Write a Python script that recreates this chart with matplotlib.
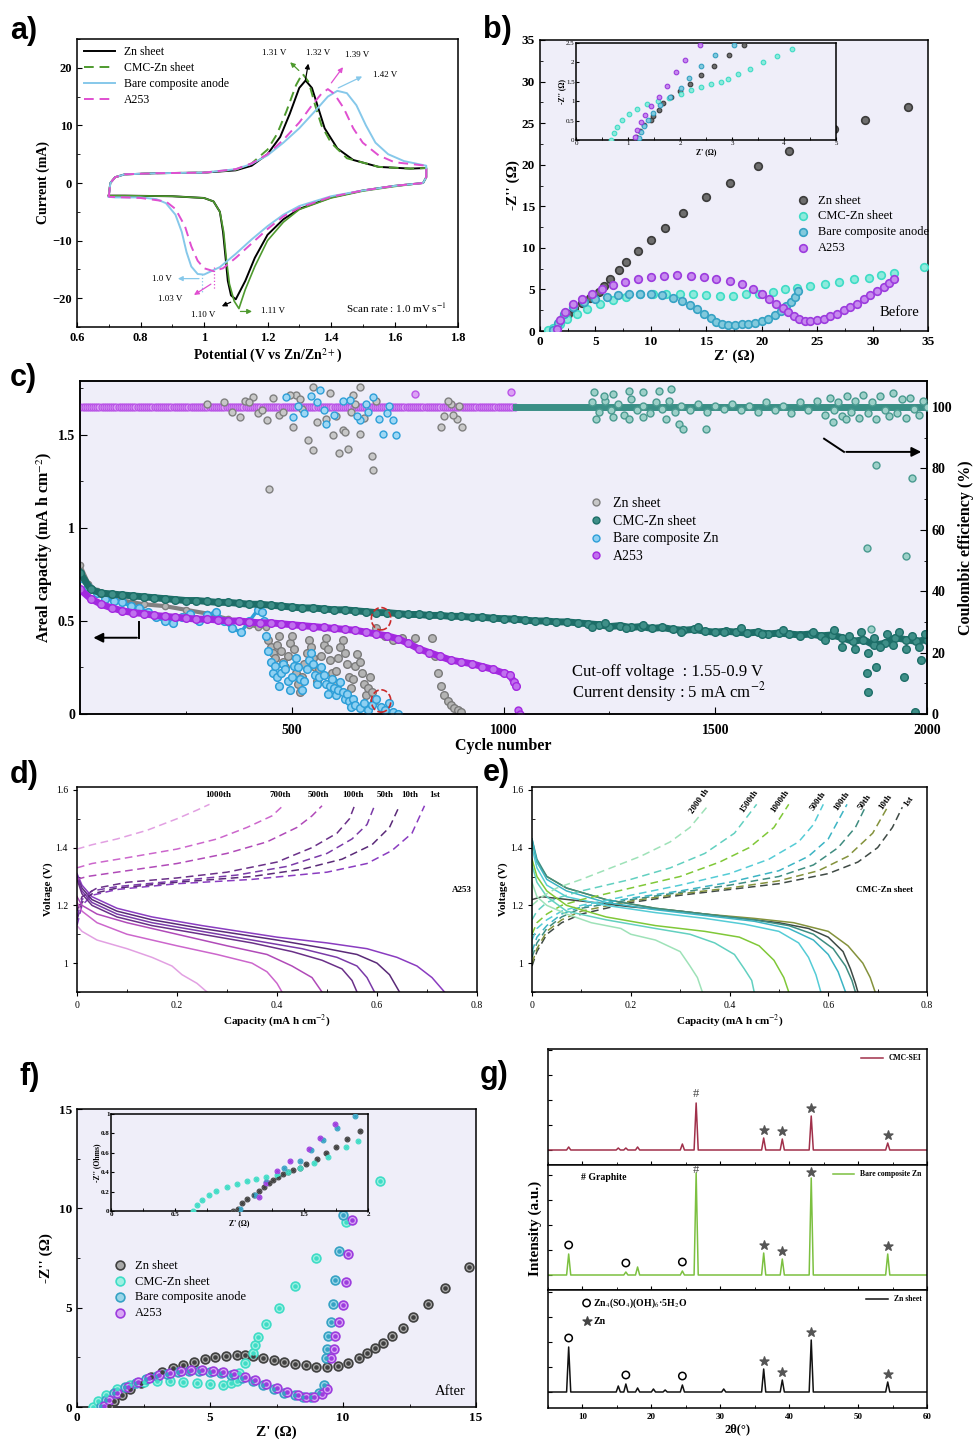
import numpy as np
import matplotlib
matplotlib.use('Agg')
import matplotlib.pyplot as plt
from matplotlib.patches import Ellipse
from matplotlib.lines import Line2D
from matplotlib.ticker import FuncFormatter, MultipleLocator, NullFormatter

plt.rcParams['font.family'] = ['Liberation Serif', 'DejaVu Serif']
plt.rcParams['mathtext.fontset'] = 'stix'
plt.rcParams['axes.linewidth'] = 1.1
plt.rcParams['xtick.direction'] = 'in'
plt.rcParams['ytick.direction'] = 'in'

# ---------------- (a) cyclic voltammetry ----------------
cv_zn_v = [0.70, 0.705, 0.72, 0.75, 0.85, 1.0, 1.1, 1.15, 1.2, 1.24, 1.27, 1.30, 1.32, 1.34, 1.36, 1.38, 1.42, 1.47, 1.55, 1.65, 1.70,
           1.70, 1.69, 1.6, 1.5, 1.4, 1.3, 1.25, 1.2, 1.16, 1.13, 1.10, 1.085, 1.075, 1.068, 1.06, 1.05, 1.03, 1.0, 0.9, 0.75, 0.70]
cv_zn_i = [-2.2, 0.0, 1.0, 1.5, 1.7, 1.8, 2.2, 3.0, 5.0, 8.0, 12.0, 16.5, 17.8, 16.5, 13.0, 9.5, 6.0, 4.0, 2.8, 2.5, 2.6,
           1.0, 0.0, -0.5, -1.3, -2.5, -4.5, -6.3, -9.0, -13.0, -17.0, -20.2, -19.5, -17.0, -13.0, -8.5, -5.0, -3.2, -2.6, -2.3, -2.2, -2.2]
cv_cmc_up_v = [0.70, 0.705, 0.72, 0.75, 0.85, 1.0, 1.1, 1.15, 1.2, 1.23, 1.26, 1.29, 1.31, 1.33, 1.35, 1.37, 1.40, 1.45, 1.55, 1.65, 1.70]
cv_cmc_up_i = [-2.2, 0.0, 1.0, 1.5, 1.7, 1.8, 2.3, 3.4, 5.8, 8.5, 12.5, 17.0, 19.0, 17.5, 13.5, 10.0, 7.0, 4.3, 2.8, 2.5, 2.6]
cv_cmc_dn_v = [1.70, 1.70, 1.69, 1.6, 1.5, 1.4, 1.3, 1.25, 1.2, 1.16, 1.13, 1.11, 1.095, 1.08, 1.07, 1.062, 1.05, 1.03, 1.0, 0.9, 0.75, 0.70]
cv_cmc_dn_i = [2.6, 1.0, 0.0, -0.6, -1.4, -2.6, -4.6, -6.8, -10.0, -14.5, -18.5, -21.8, -20.5, -17.5, -13.0, -8.5, -5.0, -3.2, -2.6, -2.3, -2.2, -2.2]
cv_bare_v = [0.70, 0.705, 0.72, 0.75, 0.85, 1.0, 1.1, 1.15, 1.2, 1.25, 1.3, 1.35, 1.39, 1.42, 1.45, 1.48, 1.51, 1.54, 1.58, 1.63, 1.70,
             1.70, 1.69, 1.6, 1.5, 1.4, 1.3, 1.25, 1.2, 1.15, 1.1, 1.05, 1.0, 0.98, 0.96, 0.945, 0.93, 0.91, 0.88, 0.85, 0.8, 0.72, 0.70]
cv_bare_i = [-2.4, 0.0, 1.0, 1.5, 1.7, 1.8, 2.4, 3.3, 4.8, 7.0, 9.5, 12.5, 15.0, 16.0, 15.6, 13.5, 10.0, 7.0, 5.0, 3.8, 3.0,
             1.0, 0.0, -0.5, -1.3, -2.3, -4.0, -5.5, -7.5, -9.8, -12.3, -14.6, -15.9, -15.8, -14.5, -12.0, -8.5, -5.5, -3.5, -2.8, -2.5, -2.5, -2.4]
cv_a253_v = [0.70, 0.705, 0.72, 0.75, 0.85, 1.0, 1.1, 1.15, 1.2, 1.25, 1.3, 1.34, 1.37, 1.39, 1.41, 1.44, 1.47, 1.5, 1.55, 1.6, 1.70,
             1.70, 1.69, 1.6, 1.5, 1.4, 1.3, 1.25, 1.2, 1.15, 1.1, 1.06, 1.03, 1.0, 0.98, 0.96, 0.94, 0.91, 0.88, 0.8, 0.70]
cv_a253_i = [-2.4, 0.0, 1.0, 1.5, 1.7, 1.8, 2.4, 3.4, 5.0, 7.5, 10.5, 13.5, 15.5, 16.3, 15.5, 13.0, 9.5, 7.0, 4.8, 3.6, 3.0,
             1.0, 0.0, -0.5, -1.3, -2.4, -4.3, -5.8, -8.0, -10.5, -13.0, -14.8, -15.3, -14.8, -13.5, -11.0, -7.5, -4.5, -3.2, -2.6, -2.4]

# ---------------- (b) EIS before cycling ----------------
b_zn_x = [1.3, 1.6, 2.0, 2.5, 3.1, 3.8, 4.5, 5.3, 5.8, 6.3, 7.1, 7.8, 8.8, 10.0, 11.3, 12.9, 15.0, 17.1, 19.7, 22.5, 26.5, 29.3, 33.2]
b_zn_y = [0.2, 0.7, 1.4, 2.1, 2.8, 3.4, 4.0, 4.7, 5.4, 6.3, 7.3, 8.3, 9.6, 11.0, 12.4, 14.2, 16.1, 17.8, 19.8, 21.7, 24.3, 25.4, 26.9]
b_cmc_x = [0.75, 1.2, 1.8, 2.4, 3.3, 4.2, 5.4, 6.6, 7.8, 9.0, 10.2, 11.4, 12.6, 13.8, 15.0, 16.2, 17.4, 18.6, 19.8, 21.0, 22.1, 23.2,
           24.4, 25.7, 27.0, 28.3, 29.7, 30.8, 31.9, 34.6]
b_cmc_y = [0.1, 0.4, 0.9, 1.4, 2.0, 2.6, 3.2, 3.7, 4.1, 4.4, 4.5, 4.5, 4.5, 4.4, 4.3, 4.2, 4.2, 4.4, 4.5, 4.7, 5.0, 5.2,
           5.4, 5.7, 5.9, 6.2, 6.4, 6.7, 7.0, 7.7]
b_bare_x = [1.2, 1.6, 2.2, 3.0, 4.0, 5.0, 6.0, 7.0, 8.0, 9.0, 10.0, 11.0, 12.0, 12.8, 13.5, 14.2, 14.8, 15.4, 15.9, 16.4, 17.0,
            17.6, 18.2, 18.8, 19.4, 20.0, 20.6, 21.2, 21.7, 22.2, 22.6, 23.0, 23.3]
b_bare_y = [0.1, 1.0, 2.0, 2.9, 3.5, 3.9, 4.1, 4.3, 4.4, 4.5, 4.4, 4.3, 4.0, 3.6, 3.1, 2.6, 2.1, 1.6, 1.1, 0.8, 0.7,
            0.75, 0.8, 0.9, 1.0, 1.2, 1.5, 1.9, 2.4, 3.0, 3.5, 4.1, 4.8]
b_a253_x = [1.5, 1.8, 2.3, 3.0, 3.8, 4.7, 5.6, 6.6, 7.7, 8.8, 10.0, 11.2, 12.4, 13.6, 14.8, 15.9, 17.1, 18.2, 19.2, 20.0, 20.7,
            21.3, 21.9, 22.4, 22.9, 23.4, 23.9, 24.4, 25.0, 25.6, 26.2, 26.8, 27.4, 28.0, 28.6, 29.2, 29.8, 30.4, 31.0, 31.5, 31.9]
b_a253_y = [0.3, 1.3, 2.3, 3.2, 3.9, 4.5, 5.0, 5.5, 5.9, 6.2, 6.5, 6.6, 6.7, 6.6, 6.5, 6.3, 6.0, 5.6, 5.0, 4.4, 3.8,
            3.3, 2.8, 2.3, 1.8, 1.4, 1.2, 1.2, 1.3, 1.5, 1.8, 2.1, 2.5, 2.9, 3.3, 3.8, 4.3, 4.8, 5.3, 5.8, 6.3]
bi_zn_x = [1.15, 1.23, 1.31, 1.44, 1.49, 1.59, 1.67, 1.83, 2.0, 2.19, 2.41, 2.66, 2.94, 3.23]
bi_zn_y = [0.09, 0.24, 0.38, 0.51, 0.62, 0.77, 0.96, 1.11, 1.27, 1.45, 1.67, 1.92, 2.18, 2.44]
bi_cmc_x = [0.68, 0.73, 0.79, 0.89, 1.02, 1.18, 1.37, 1.57, 1.79, 2.02, 2.21, 2.41, 2.6, 2.79, 2.93, 3.12, 3.35, 3.6, 3.86, 4.16]
bi_cmc_y = [0.0, 0.17, 0.34, 0.51, 0.68, 0.79, 0.92, 1.0, 1.09, 1.18, 1.28, 1.37, 1.45, 1.49, 1.57, 1.7, 1.84, 2.0, 2.17, 2.35]
bi_bare_x = [1.22, 1.25, 1.3, 1.38, 1.48, 1.62, 1.8, 2.02, 2.18, 2.4, 2.68, 3.03]
bi_bare_y = [0.05, 0.2, 0.36, 0.52, 0.7, 0.9, 1.1, 1.35, 1.6, 1.92, 2.18, 2.45]
bi_a253_x = [1.13, 1.18, 1.25, 1.33, 1.45, 1.6, 1.75, 1.93, 2.1, 2.38]
bi_a253_y = [0.08, 0.25, 0.47, 0.65, 0.87, 1.1, 1.4, 1.74, 2.07, 2.45]

# ---------------- (c) long-term cycling ----------------
cmc_cyc = list(range(0, 2001, 25))
cmc_cap = [0.76, 0.67, 0.65, 0.645, 0.64, 0.635, 0.63, 0.625, 0.62, 0.615, 0.61, 0.61, 0.605, 0.60, 0.60, 0.595, 0.59, 0.59, 0.585, 0.58,
           0.575, 0.57, 0.57, 0.565, 0.56, 0.56, 0.555, 0.55, 0.545, 0.545, 0.54, 0.535, 0.535, 0.53, 0.53, 0.525, 0.525, 0.52, 0.52, 0.515,
           0.512, 0.51, 0.505, 0.50, 0.50, 0.495, 0.495, 0.49, 0.485, 0.48, 0.47, 0.475, 0.465, 0.47, 0.46, 0.465, 0.455, 0.45, 0.455, 0.445,
           0.44, 0.445, 0.44, 0.435, 0.44, 0.43, 0.435, 0.43, 0.425, 0.43, 0.42, 0.425, 0.41, 0.39, 0.40, 0.37, 0.38, 0.41, 0.40, 0.39, 0.40]
cmc_cap_x = [1210, 1240, 1290, 1330, 1420, 1460, 1520, 1560, 1610, 1660, 1700, 1730,
             1760, 1780, 1800, 1815, 1830, 1845, 1860, 1875, 1890, 1905, 1920, 1935, 1950, 1965, 1980, 1995,
             1858, 1861, 1880, 1945, 1985, 1972]
cmc_cap_y = [0.47, 0.49, 0.46, 0.48, 0.44, 0.47, 0.44, 0.46, 0.43, 0.45, 0.42, 0.44,
             0.40, 0.45, 0.36, 0.42, 0.35, 0.44, 0.33, 0.41, 0.36, 0.43, 0.37, 0.44, 0.35, 0.42, 0.36, 0.43,
             0.22, 0.12, 0.25, 0.20, 0.29, 0.01]
zn_cyc = [0, 20, 40, 60, 80, 100, 150, 200, 250, 300, 350, 400, 420, 440]
zn_cap = [0.80, 0.70, 0.66, 0.64, 0.62, 0.61, 0.59, 0.58, 0.56, 0.54, 0.51, 0.48, 0.47, 0.47]
zn_cloud_x = [445, 450, 455, 460, 465, 470, 475, 480, 485, 490, 495, 500, 505, 510, 515, 520, 525, 530, 535, 540, 545, 550,
              555, 560, 565, 570, 575, 580, 585, 590, 595, 600, 605, 610, 615, 620, 625, 630, 635, 640, 645, 650, 655, 660,
              665, 670, 675, 680, 685, 690, 695, 700, 720, 740, 760, 790, 830, 838, 845, 852, 860, 868, 876, 884, 892, 900]
zn_cloud_y = [0.40, 0.36, 0.33, 0.30, 0.37, 0.42, 0.34, 0.28, 0.25, 0.31, 0.38, 0.42, 0.35, 0.22, 0.16, 0.12, 0.20, 0.27, 0.33, 0.40, 0.36, 0.30,
              0.25, 0.18, 0.24, 0.31, 0.37, 0.41, 0.35, 0.29, 0.22, 0.17, 0.23, 0.30, 0.36, 0.40, 0.33, 0.27, 0.20, 0.14, 0.19, 0.26, 0.32, 0.28,
              0.22, 0.16, 0.10, 0.14, 0.20, 0.12, 0.07, 0.46, 0.42, 0.40, 0.41, 0.41, 0.41, 0.31, 0.22, 0.15, 0.10, 0.07, 0.05, 0.03, 0.02, 0.01]
bare_cyc = [0, 20, 40, 60, 80, 100, 120, 140, 160, 180, 200, 220, 240, 260, 280, 300, 320, 340, 360, 380, 400, 420]
bare_cap = [0.73, 0.68, 0.65, 0.62, 0.61, 0.60, 0.58, 0.57, 0.55, 0.52, 0.50, 0.49, 0.52, 0.54, 0.50, 0.53, 0.55, 0.50, 0.46, 0.44, 0.50, 0.56]
bare_cloud_x = [430, 435, 440, 445, 450, 455, 460, 465, 470, 475, 480, 485, 490, 495, 500, 505, 510, 515, 520, 525, 530, 535,
                540, 545, 550, 555, 560, 565, 570, 575, 580, 585, 590, 595, 600, 605, 610, 615, 620, 625, 630, 635, 640, 645,
                650, 660, 670, 680, 690, 700, 710, 720, 730, 740, 750]
bare_cloud_y = [0.55, 0.50, 0.42, 0.34, 0.28, 0.22, 0.26, 0.20, 0.15, 0.22, 0.27, 0.24, 0.18, 0.13, 0.20, 0.26, 0.30, 0.25, 0.19, 0.13, 0.18, 0.24,
                0.29, 0.33, 0.27, 0.21, 0.16, 0.20, 0.25, 0.21, 0.16, 0.11, 0.15, 0.19, 0.14, 0.10, 0.13, 0.17, 0.12, 0.08, 0.11, 0.07, 0.04, 0.08,
                0.05, 0.03, 0.06, 0.02, 0.05, 0.08, 0.04, 0.02, 0.06, 0.01, 0.0]
a253_cyc = [0, 25, 50, 75, 100, 125, 150, 175, 200, 225, 250, 275, 300, 325, 350, 375, 400, 425, 450, 475, 500, 525, 550, 575,
            600, 625, 650, 675, 700, 725, 750, 775, 800, 825, 850, 875, 900, 925, 950, 975, 1000, 1015, 1025, 1030]
a253_cap = [0.67, 0.62, 0.59, 0.57, 0.555, 0.545, 0.54, 0.53, 0.525, 0.52, 0.515, 0.51, 0.51, 0.505, 0.50, 0.50, 0.495, 0.49, 0.49, 0.485, 0.48, 0.475, 0.47, 0.465,
            0.46, 0.455, 0.45, 0.44, 0.43, 0.42, 0.405, 0.38, 0.35, 0.33, 0.31, 0.29, 0.28, 0.27, 0.255, 0.24, 0.22, 0.21, 0.17, 0.15]
a253_tail_x = [1035, 1040]
a253_tail_y = [0.02, 0.0]

zn_ce_x = [441, 447, 539, 551, 611, 632, 690, 691, 620, 377, 409, 510, 550, 660, 853, 877, 901, 503, 598, 661, 645,
           390, 420, 470, 520, 580, 640, 700, 860, 890, 400, 430, 455, 480, 495, 525, 560, 590, 605, 625, 650, 670, 870, 880, 895,
           340, 360, 300]
zn_ce_y = [95.7, 73.3, 89.3, 86.1, 85.1, 86.5, 84.1, 79.4, 92.5, 96.8, 103.2, 103.9, 106.5, 106.5, 93.5, 101.0, 93.5, 93.5, 90.9, 91.3, 103.9,
           102.0, 98.0, 97.5, 102.5, 96.0, 98.5, 102.0, 97.0, 96.0, 101.5, 99.0, 103.0, 98.5, 104.0, 99.5, 95.0, 104.5, 97.0, 92.0, 101.0, 96.5, 102.0, 97.5, 100.5,
           101.5, 98.5, 101.0]
bare_ce_x = [487, 566, 715, 746, 661, 637, 503, 707, 739, 582, 691, 530, 600, 620, 680, 560, 515, 545, 575, 655, 675, 725, 730]
bare_ce_y = [103.2, 105.5, 91.3, 90.9, 95.8, 102.3, 96.8, 96.2, 95.8, 94.6, 103.2, 98.0, 97.5, 102.0, 98.5, 101.5, 100.5, 103.5, 99.0, 97.0, 101.0, 98.0, 100.5]
a253_ce_x = [790, 1018]
a253_ce_y = [104.3, 104.9]
cmc_ce_x = [1210, 1225, 1240, 1255, 1270, 1285, 1300, 1315, 1330, 1345, 1360, 1375, 1390, 1405, 1420, 1440, 1460, 1480, 1500, 1520,
            1540, 1560, 1580, 1600, 1620, 1640, 1660, 1680, 1700, 1720, 1740, 1760, 1770, 1780, 1790, 1800, 1810, 1820, 1830, 1840,
            1850, 1860, 1870, 1880, 1890, 1900, 1910, 1920, 1930, 1940, 1950, 1960, 1970, 1980, 1990, 2000,
            1214, 1238, 1258, 1297, 1329, 1368, 1395, 1218, 1258, 1297, 1329, 1384, 1415, 1423, 1478, 1777, 1808,
            1879, 1965, 1859, 1950, 1867]
cmc_ce_y = [101.5, 98.5, 102, 99, 101, 97.5, 102.5, 99, 100.5, 98, 101.5, 99.5, 102, 98.5, 100.5, 99, 101, 98.5, 100.5, 99.5,
            101, 99, 100.5, 98.5, 101.5, 99, 100.5, 98, 101.5, 99, 102, 97.5, 103, 99, 101.5, 97, 103.5, 98.5, 102, 96.5,
            104, 98, 101.5, 96, 103.5, 99, 97, 104.5, 98, 102.5, 96.5, 103, 99.5, 97.5, 102, 100,
            104.8, 103.7, 104.3, 105.4, 104.8, 105.4, 105.9, 96.2, 96.7, 96.2, 96.7, 96.2, 94.6, 93.0, 93.0, 95.1, 96.2,
            81.1, 76.8, 54.1, 51.4, 27.6]

# ---------------- (d) A253 charge/discharge ----------------
d_labels = ['1st', '10th', '50th', '100th', '500th', '700th', '1000th']
d_colors = ['#8a3cc0', '#5a2a78', '#7a3aa8', '#6a3088', '#b04ab8', '#cc66cc', '#e2a0e2']
d_chg = [
    ([0.0, 0.01, 0.03, 0.08, 0.2, 0.35, 0.5, 0.58, 0.63, 0.67, 0.695], [1.13, 1.2, 1.235, 1.255, 1.275, 1.29, 1.315, 1.345, 1.39, 1.45, 1.545]),
    ([0.0, 0.01, 0.03, 0.08, 0.2, 0.35, 0.45, 0.53, 0.59, 0.625, 0.645], [1.15, 1.21, 1.24, 1.26, 1.28, 1.30, 1.325, 1.36, 1.41, 1.47, 1.545]),
    ([0.0, 0.01, 0.03, 0.08, 0.2, 0.32, 0.42, 0.5, 0.55, 0.58, 0.595], [1.16, 1.22, 1.25, 1.265, 1.285, 1.305, 1.335, 1.38, 1.43, 1.48, 1.545]),
    ([0.0, 0.01, 0.04, 0.1, 0.2, 0.3, 0.4, 0.47, 0.52, 0.545, 0.555], [1.18, 1.23, 1.26, 1.28, 1.295, 1.315, 1.35, 1.4, 1.45, 1.5, 1.545]),
    ([0.0, 0.02, 0.1, 0.2, 0.3, 0.38, 0.44, 0.47, 0.49], [1.29, 1.3, 1.32, 1.345, 1.38, 1.42, 1.47, 1.51, 1.545]),
    ([0.0, 0.03, 0.1, 0.2, 0.28, 0.34, 0.39, 0.415], [1.33, 1.345, 1.365, 1.395, 1.43, 1.47, 1.51, 1.55]),
    ([0.0, 0.03, 0.08, 0.14, 0.2, 0.24, 0.265], [1.395, 1.41, 1.43, 1.46, 1.5, 1.53, 1.55]),
]
d_dis = [
    ([0.0, 0.01, 0.03, 0.08, 0.15, 0.25, 0.4, 0.5, 0.58, 0.64, 0.68, 0.71, 0.735], [1.31, 1.27, 1.23, 1.19, 1.16, 1.13, 1.09, 1.07, 1.05, 1.02, 0.99, 0.95, 0.9]),
    ([0.0, 0.01, 0.03, 0.08, 0.15, 0.25, 0.4, 0.5, 0.56, 0.6, 0.625, 0.645], [1.3, 1.26, 1.22, 1.18, 1.15, 1.12, 1.08, 1.05, 1.03, 1.0, 0.96, 0.9]),
    ([0.0, 0.01, 0.03, 0.08, 0.15, 0.25, 0.35, 0.45, 0.52, 0.56, 0.58, 0.595], [1.3, 1.25, 1.21, 1.17, 1.14, 1.11, 1.08, 1.05, 1.02, 0.99, 0.95, 0.9]),
    ([0.0, 0.01, 0.03, 0.08, 0.15, 0.25, 0.35, 0.43, 0.49, 0.53, 0.55, 0.56], [1.29, 1.24, 1.2, 1.16, 1.13, 1.1, 1.07, 1.04, 1.01, 0.98, 0.94, 0.9]),
    ([0.0, 0.01, 0.04, 0.1, 0.2, 0.3, 0.38, 0.43, 0.47, 0.49], [1.23, 1.2, 1.17, 1.14, 1.1, 1.06, 1.03, 0.99, 0.95, 0.9]),
    ([0.0, 0.01, 0.04, 0.1, 0.2, 0.28, 0.35, 0.38, 0.40, 0.41], [1.21, 1.18, 1.14, 1.1, 1.06, 1.03, 1.0, 0.97, 0.93, 0.9]),
    ([0.0, 0.01, 0.04, 0.1, 0.15, 0.19, 0.21, 0.24, 0.26], [1.13, 1.11, 1.08, 1.05, 1.02, 0.99, 0.96, 0.93, 0.9]),
]
d_label_x = [0.715, 0.665, 0.617, 0.553, 0.482, 0.407, 0.282]

# ---------------- (e) CMC-Zn sheet charge/discharge ----------------
e_labels = ['1st', '10th', '50th', '100th', '500th', '1000th', '1500th', '2000 th']
e_colors = ['#3f4a45', '#84923c', '#3f8c80', '#3cb4c4', '#55ccd6', '#80c838', '#62d0c0', '#9ee2b8']
e_chg = [
    ([0.0, 0.01, 0.03, 0.06, 0.1, 0.2, 0.3, 0.4, 0.5, 0.6, 0.66, 0.7, 0.73, 0.75], [0.99, 1.04, 1.1, 1.14, 1.17, 1.21, 1.235, 1.255, 1.275, 1.31, 1.35, 1.4, 1.47, 1.54]),
    ([0.0, 0.01, 0.03, 0.06, 0.1, 0.2, 0.3, 0.4, 0.5, 0.58, 0.64, 0.69, 0.72], [1.0, 1.05, 1.11, 1.15, 1.18, 1.215, 1.24, 1.26, 1.285, 1.32, 1.37, 1.45, 1.54]),
    ([0.0, 0.01, 0.03, 0.06, 0.1, 0.2, 0.3, 0.4, 0.5, 0.57, 0.62, 0.655, 0.675], [1.02, 1.07, 1.12, 1.16, 1.19, 1.22, 1.245, 1.27, 1.3, 1.34, 1.4, 1.47, 1.54]),
    ([0.0, 0.01, 0.03, 0.06, 0.1, 0.2, 0.3, 0.4, 0.5, 0.56, 0.6, 0.638], [1.04, 1.09, 1.13, 1.17, 1.195, 1.225, 1.25, 1.28, 1.32, 1.37, 1.43, 1.55]),
    ([0.0, 0.01, 0.03, 0.06, 0.1, 0.2, 0.3, 0.4, 0.48, 0.54, 0.57, 0.59], [1.08, 1.12, 1.15, 1.18, 1.2, 1.235, 1.27, 1.31, 1.36, 1.42, 1.48, 1.55]),
    ([0.0, 0.01, 0.03, 0.06, 0.1, 0.2, 0.3, 0.38, 0.44, 0.49, 0.52], [1.1, 1.14, 1.17, 1.2, 1.22, 1.26, 1.3, 1.35, 1.4, 1.47, 1.55]),
    ([0.0, 0.01, 0.03, 0.06, 0.1, 0.2, 0.28, 0.35, 0.41, 0.455], [1.15, 1.18, 1.21, 1.23, 1.25, 1.29, 1.33, 1.38, 1.45, 1.55]),
    ([0.0, 0.02, 0.05, 0.1, 0.16, 0.22, 0.28, 0.32, 0.354], [1.2, 1.23, 1.26, 1.29, 1.33, 1.37, 1.42, 1.47, 1.54]),
]
e_dis = [
    ([0.0, 0.02, 0.1, 0.2, 0.3, 0.4, 0.5, 0.56, 0.6, 0.63, 0.645, 0.655, 0.66], [1.22, 1.23, 1.215, 1.195, 1.18, 1.16, 1.14, 1.12, 1.09, 1.04, 0.98, 0.93, 0.9]),
    ([0.0, 0.01, 0.03, 0.07, 0.15, 0.25, 0.35, 0.45, 0.53, 0.6, 0.64, 0.67, 0.685, 0.695], [1.42, 1.35, 1.3, 1.26, 1.22, 1.19, 1.17, 1.155, 1.14, 1.11, 1.06, 1.0, 0.95, 0.9]),
    ([0.0, 0.01, 0.03, 0.07, 0.15, 0.25, 0.35, 0.45, 0.52, 0.57, 0.61, 0.635, 0.648, 0.655], [1.43, 1.36, 1.3, 1.26, 1.22, 1.19, 1.17, 1.15, 1.13, 1.1, 1.05, 0.99, 0.94, 0.9]),
    ([0.0, 0.01, 0.03, 0.07, 0.15, 0.25, 0.35, 0.45, 0.52, 0.57, 0.6, 0.62, 0.635], [1.43, 1.35, 1.29, 1.25, 1.21, 1.185, 1.165, 1.145, 1.12, 1.08, 1.03, 0.97, 0.9]),
    ([0.0, 0.01, 0.03, 0.07, 0.15, 0.25, 0.35, 0.43, 0.5, 0.54, 0.56, 0.575, 0.585], [1.4, 1.33, 1.27, 1.23, 1.2, 1.175, 1.155, 1.135, 1.11, 1.07, 1.02, 0.96, 0.9]),
    ([0.0, 0.01, 0.03, 0.07, 0.15, 0.25, 0.35, 0.42, 0.46, 0.49, 0.51, 0.52], [1.36, 1.3, 1.25, 1.2, 1.16, 1.13, 1.11, 1.09, 1.06, 1.01, 0.95, 0.9]),
    ([0.0, 0.01, 0.03, 0.07, 0.15, 0.25, 0.32, 0.37, 0.41, 0.43, 0.445, 0.45], [1.34, 1.28, 1.23, 1.18, 1.15, 1.12, 1.1, 1.07, 1.03, 0.98, 0.94, 0.9]),
    ([0.0, 0.01, 0.03, 0.07, 0.12, 0.18, 0.2, 0.25, 0.3, 0.32, 0.335, 0.345], [1.28, 1.23, 1.2, 1.17, 1.14, 1.12, 1.1, 1.08, 1.04, 0.99, 0.95, 0.9]),
]
e_label_x = [0.763, 0.716, 0.675, 0.628, 0.58, 0.503, 0.44, 0.34]

# ---------------- (f) EIS after cycling ----------------
f_zn_x = [1.2, 1.4, 1.7, 2.0, 2.4, 2.8, 3.2, 3.6, 4.0, 4.4, 4.8, 5.2, 5.6, 6.0, 6.3, 6.6, 7.0, 7.4, 7.8, 8.2, 8.6, 9.0, 9.4,
          9.8, 10.2, 10.6, 10.9, 11.2, 11.5, 11.83, 12.25, 12.65, 13.19, 13.84, 14.72]
f_zn_y = [0.05, 0.3, 0.6, 0.9, 1.2, 1.5, 1.75, 1.95, 2.1, 2.25, 2.4, 2.5, 2.55, 2.6, 2.6, 2.55, 2.45, 2.35, 2.25, 2.15, 2.1, 2.0, 2.0,
          2.05, 2.2, 2.45, 2.72, 2.97, 3.22, 3.59, 3.98, 4.53, 5.2, 5.99, 7.05]
f_cmc_x = [0.6, 0.8, 1.1, 1.5, 2.0, 2.5, 3.0, 3.5, 4.0, 4.5, 5.0, 5.5, 5.8, 6.0, 6.1, 6.3, 6.6, 6.7, 6.8, 7.1, 7.6, 8.2, 9.0, 10.1, 11.4]
f_cmc_y = [0.0, 0.3, 0.6, 0.9, 1.1, 1.25, 1.3, 1.3, 1.25, 1.2, 1.15, 1.1, 1.2, 1.3, 1.7, 2.2, 2.7, 3.1, 3.5, 4.2, 5.0, 6.1, 7.5, 9.3, 11.4]
f_bare_x = [0.9, 1.1, 1.4, 1.8, 2.2, 2.6, 3.0, 3.4, 3.8, 4.2, 4.6, 5.0, 5.4, 5.8, 6.2, 6.6, 7.0, 7.4, 7.8, 8.2, 8.5, 8.8, 9.1,
            9.3, 9.36, 9.39, 9.45, 9.55, 9.64, 9.71, 9.85, 9.99]
f_bare_y = [0.05, 0.35, 0.7, 1.0, 1.22, 1.4, 1.55, 1.67, 1.75, 1.8, 1.8, 1.75, 1.7, 1.6, 1.45, 1.3, 1.1, 0.9, 0.72, 0.58, 0.5, 0.5, 0.7,
            1.1, 2.47, 2.92, 3.56, 4.26, 5.2, 6.38, 7.87, 9.68]
f_a253_x = [1.0, 1.2, 1.5, 1.9, 2.3, 2.7, 3.1, 3.5, 3.9, 4.3, 4.7, 5.1, 5.5, 5.9, 6.3, 6.7, 7.1, 7.5, 7.9, 8.3, 8.6, 8.9, 9.2,
            9.4, 9.54, 9.67, 9.71, 9.86, 10.0, 10.1, 10.2, 10.33]
f_a253_y = [0.05, 0.35, 0.7, 1.0, 1.25, 1.45, 1.6, 1.72, 1.8, 1.85, 1.85, 1.8, 1.75, 1.65, 1.5, 1.35, 1.15, 0.95, 0.75, 0.6, 0.5, 0.5, 0.65,
            0.9, 2.47, 2.92, 3.56, 4.26, 5.15, 6.3, 7.7, 9.43]
fi_zn_x = [0.95, 0.99, 1.02, 1.06, 1.11, 1.15, 1.19, 1.23, 1.26, 1.30, 1.34, 1.38, 1.42, 1.47, 1.52, 1.6, 1.67, 1.75, 1.84, 1.94]
fi_zn_y = [0.0, 0.02, 0.08, 0.12, 0.17, 0.21, 0.25, 0.29, 0.32, 0.35, 0.38, 0.40, 0.42, 0.44, 0.48, 0.54, 0.6, 0.66, 0.74, 0.82]
fi_cmc_x = [0.64, 0.67, 0.71, 0.76, 0.82, 0.9, 0.98, 1.06, 1.13, 1.21, 1.29, 1.38, 1.47, 1.58, 1.69, 1.83, 1.92]
fi_cmc_y = [0.0, 0.06, 0.11, 0.16, 0.21, 0.25, 0.28, 0.31, 0.33, 0.35, 0.37, 0.40, 0.44, 0.50, 0.56, 0.66, 0.72]
fi_bare_x = [1.0, 1.12, 1.21, 1.35, 1.47, 1.56, 1.65, 1.76, 1.9]
fi_bare_y = [0.02, 0.16, 0.30, 0.44, 0.52, 0.63, 0.73, 0.86, 0.98]
fi_a253_x = [1.15, 1.21, 1.29, 1.39, 1.54, 1.63, 1.74]
fi_a253_y = [0.14, 0.29, 0.41, 0.52, 0.64, 0.75, 0.9]

# ---------------- (g) XRD ----------------
xrd_sei_pos = [8.0, 15.2, 16.3, 18.0, 24.5, 26.5, 36.3, 39.0, 43.2, 54.3]
xrd_sei_h = [3, 2, 2, 3, 6, 47, 12, 11, 34, 7]
xrd_bare_pos = [8.0, 16.3, 18.0, 24.5, 26.5, 36.3, 39.0, 43.2, 54.3]
xrd_bare_h = [21, 3, 8, 4, 102, 22, 16, 97, 21]
xrd_zn_pos = [8.0, 15.2, 16.3, 18.0, 20.3, 22.0, 24.5, 30.5, 36.3, 39.0, 43.2, 54.3]
xrd_zn_h = [45, 6, 8, 4, 3, 2, 7, 3, 23, 12, 52, 10]
zn_star_pos = [36.3, 39.0, 43.2, 54.3]
hydroxide_pos = [8.0, 16.3, 24.5]
graphite_pos = 26.5

W, H = 980, 1443
fig = plt.figure(figsize=(W / 100, H / 100), dpi=100)
LAV = '#efeef9'


def box(l, t, r, b):
    return [l / W, 1 - b / H, (r - l) / W, (b - t) / H]


def tag(x, y, s):
    fig.text(x / W, 1 - y / H, s, family=['Liberation Sans', 'DejaVu Sans'], weight='bold', size=22, va='center')


gfmt = FuncFormatter(lambda v, p: '%g' % v)

# ===== (a) =====
ax = fig.add_axes(box(77, 39, 458, 327))
ax.plot(cv_zn_v, cv_zn_i, color='black', lw=1.4, label='Zn sheet')
ax.plot(cv_cmc_up_v, cv_cmc_up_i, color='#4e9a2e', lw=1.4, ls=(0, (5, 3)), label='CMC-Zn sheet')
ax.plot(cv_cmc_dn_v, cv_cmc_dn_i, color='#4e9a2e', lw=1.2)
ax.plot(cv_bare_v, cv_bare_i, color='#86c8ea', lw=1.4, label='Bare composite anode')
ax.plot(cv_a253_v, cv_a253_i, color='#e04fd0', lw=1.4, ls=(0, (5, 3)), label='A253')
ax.set_xlim(0.6, 1.8)
ax.set_ylim(-25, 25)
ax.xaxis.set_major_locator(MultipleLocator(0.2))
ax.xaxis.set_minor_locator(MultipleLocator(0.1))
ax.yaxis.set_major_locator(MultipleLocator(10))
ax.yaxis.set_minor_locator(MultipleLocator(5))
ax.xaxis.set_major_formatter(gfmt)
ax.tick_params(labelsize=9)
for lb in ax.get_xticklabels() + ax.get_yticklabels():
    lb.set_fontweight('bold')
ax.set_xlabel(r'Potential (V vs Zn/Zn$^{2+}$)', fontsize=10, weight='bold', labelpad=2)
ax.set_ylabel('Current (mA)', fontsize=10, weight='bold', labelpad=2)
ax.legend(loc='upper left', frameon=False, fontsize=8.5, handlelength=2.6, borderaxespad=0.2, labelspacing=0.35)
arrows_a = [((1.305, 19.2), (1.265, 21.3), '#4e9a2e', '1.31 V', (1.222, 22.6)),
            ((1.318, 17.4), (1.33, 21.2), 'black', '1.32 V', (1.36, 22.6)),
            ((1.396, 17.0), (1.443, 20.5), '#e04fd0', '1.39 V', (1.482, 22.2)),
            ((1.415, 16.3), (1.506, 18.7), '#86c8ea', '1.42 V', (1.57, 18.7)),
            ((0.993, -16.6), (0.909, -16.6), '#86c8ea', '1.0 V', (0.866, -16.7)),
            ((1.029, -17.3), (0.961, -19.7), '#e04fd0', '1.03 V', (0.893, -20.1)),
            ((1.092, -20.5), (1.048, -21.6), 'black', '1.10 V', (0.998, -23.0)),
            ((1.106, -22.3), (1.16, -22.3), '#4e9a2e', '1.11 V', (1.218, -22.3))]
for tail, head, col, txt, tpos in arrows_a:
    ax.annotate('', xy=head, xytext=tail, arrowprops=dict(arrowstyle='-|>', color=col, lw=0.9, mutation_scale=7))
    ax.text(tpos[0], tpos[1], txt, fontsize=6.5, ha='center', va='center')
ax.plot([0.993, 0.993], [-15.8, -19], color='#86c8ea', ls=':', lw=0.9)
ax.plot([1.03, 1.03], [-14.5, -18.5], color='#e04fd0', ls=':', lw=0.9)
ax.text(1.605, -21.7, r'Scan rate : 1.0 mV s$^{-1}$', fontsize=8, ha='center', va='center')
tag(10, 31, 'a)')

# ===== (b) =====
ax = fig.add_axes(box(540, 40, 928, 331))
ax.set_facecolor(LAV)
b_series = [(b_zn_x, b_zn_y, '#3c3c3c', '#6e6e6e', 'Zn sheet'),
            (b_cmc_x, b_cmc_y, '#3fdcc6', '#8eeadc', 'CMC-Zn sheet'),
            (b_bare_x, b_bare_y, '#36a2c4', '#82c9dc', 'Bare composite anode'),
            (b_a253_x, b_a253_y, '#9c3cde', '#c68aee', 'A253')]
for x, y, ec, fc, lab in b_series:
    ax.scatter(x, y, s=30, facecolor=fc, edgecolor=ec, linewidth=1.2, label=lab, zorder=3)
ax.set_xlim(0, 35)
ax.set_ylim(0, 35)
ax.xaxis.set_major_locator(MultipleLocator(5))
ax.yaxis.set_major_locator(MultipleLocator(5))
ax.xaxis.set_minor_locator(MultipleLocator(2.5))
ax.yaxis.set_minor_locator(MultipleLocator(2.5))
ax.tick_params(labelsize=9.5)
for lb in ax.get_xticklabels() + ax.get_yticklabels():
    lb.set_fontweight('bold')
ax.set_xlabel("Z' (Ω)", fontsize=11, weight='bold', labelpad=1)
ax.set_ylabel("-Z'' (Ω)", fontsize=11, weight='bold', labelpad=1)
ax.legend(loc='upper left', bbox_to_anchor=(0.63, 0.49), frameon=False, fontsize=9, handletextpad=0.2,
          labelspacing=0.3, borderaxespad=0.1)
ax.text(32.4, 2.2, 'Before', fontsize=10.5, ha='center', va='center')
axi = fig.add_axes(box(576, 43, 836, 140))
axi.set_facecolor(LAV)
bi_series = [(bi_zn_x, bi_zn_y, '#3c3c3c', '#6e6e6e'), (bi_cmc_x, bi_cmc_y, '#3fdcc6', '#8eeadc'),
             (bi_bare_x, bi_bare_y, '#36a2c4', '#82c9dc'), (bi_a253_x, bi_a253_y, '#9c3cde', '#c68aee')]
for x, y, ec, fc in bi_series:
    axi.scatter(x, y, s=11, facecolor=fc, edgecolor=ec, linewidth=0.8, zorder=3)
axi.set_xlim(0, 5)
axi.set_ylim(0, 2.5)
axi.xaxis.set_major_locator(MultipleLocator(1))
axi.xaxis.set_minor_locator(MultipleLocator(0.5))
axi.yaxis.set_major_locator(MultipleLocator(0.5))
axi.yaxis.set_major_formatter(gfmt)
axi.tick_params(labelsize=5, pad=1, length=2)
axi.set_xlabel("Z' (Ω)", fontsize=5.5, weight='bold', labelpad=1)
axi.set_ylabel("-Z'' (Ω)", fontsize=5.5, weight='bold', labelpad=0)
tag(483, 30, 'b)')

# ===== (c) =====
ax = fig.add_axes(box(80, 381, 927, 714))
ax.set_facecolor(LAV)
ax2 = ax.twinx()
ZN_C, CMC_C, BARE_C, A_C = '#808080', '#1d6e68', '#2e9fd8', '#a328e0'
ax.plot(zn_cyc, zn_cap, '-o', color=ZN_C, lw=3, ms=4.5, mfc='#b4b4b4', mec=ZN_C, mew=1, zorder=2)
ax.plot(zn_cloud_x, zn_cloud_y, 'o', ms=5.5, mfc='#b4b4b4', mec='#7a7a7a', mew=1, zorder=2)
ax.plot(bare_cyc, bare_cap, '-o', color=BARE_C, lw=2.5, ms=5.5, mfc='#8ed0f2', mec=BARE_C, mew=1.1, zorder=3)
ax.plot(bare_cloud_x, bare_cloud_y, 'o', ms=5.5, mfc='#8ed0f2', mec=BARE_C, mew=1.1, zorder=3)
ax.plot(cmc_cyc, cmc_cap, '-o', color=CMC_C, lw=5, ms=5.5, mfc='#3f8f88', mec=CMC_C, mew=1, zorder=4)
ax.plot(cmc_cap_x, cmc_cap_y, 'o', ms=5.5, mfc='#3f8f88', mec=CMC_C, mew=1, zorder=4)
ax.plot(a253_cyc, a253_cap, '-o', color=A_C, lw=5, ms=5.5, mfc='#c070ee', mec=A_C, mew=1, zorder=5)
ax.plot(a253_tail_x, a253_tail_y, 'o', ms=5, mfc='#c070ee', mec=A_C, mew=1, zorder=5)
ax.add_patch(Ellipse((711, 0.512), 46, 0.12, fill=False, ls='--', ec='#cc2a2a', lw=1.2, zorder=6))
ax.add_patch(Ellipse((711, 0.07), 46, 0.12, fill=False, ls='--', ec='#cc2a2a', lw=1.2, zorder=6))
ax.plot([140, 140], [0.494, 0.41], color='black', lw=1.4)
ax.annotate('', xy=(25, 0.41), xytext=(141, 0.41), arrowprops=dict(arrowstyle='-|>', color='black', lw=1.4, mutation_scale=14))
ax.set_xlim(0, 2000)
ax.set_ylim(0, 1.79)
ax.set_xticks([500, 1000, 1500, 2000])
ax.xaxis.set_minor_locator(MultipleLocator(250))
ax.set_yticks([0, 0.5, 1, 1.5])
ax.yaxis.set_minor_locator(MultipleLocator(0.25))
ax.yaxis.set_major_formatter(gfmt)
ax.tick_params(labelsize=10, length=5)
ax.tick_params(axis='x', pad=7)
for lb in ax.get_xticklabels() + ax.get_yticklabels():
    lb.set_fontweight('bold')
ax.set_xlabel('Cycle number', fontsize=11.5, weight='bold', labelpad=1)
ax.set_ylabel(r'Areal capacity (mA h cm$^{-2}$)', fontsize=11.5, weight='bold', labelpad=2)

# coulombic efficiency on the right axis
a253_ce_base = np.arange(1, 1031, 5)
ax2.plot(a253_ce_base, np.full(len(a253_ce_base), 100.0), '-o', color='#c36ceb', lw=5, ms=5,
         mfc='#dba2f4', mec='#b850e6', mew=0.8, zorder=2)
ax2.plot(zn_ce_x, zn_ce_y, 'o', ms=5, mfc='#c8c8c8', mec='#808080', mew=1, zorder=3)
ax2.plot(bare_ce_x, bare_ce_y, 'o', ms=5, mfc='#9fd8f4', mec=BARE_C, mew=1, zorder=3)
ax2.plot(a253_ce_x, a253_ce_y, 'o', ms=5, mfc='#dba2f4', mec='#bb55e8', mew=1, zorder=3)
ax2.plot([1030, 2000], [100, 100], color='#3a8f86', lw=5, zorder=2)
ax2.plot(cmc_ce_x, cmc_ce_y, 'o', ms=5, mfc='#9cd0c8', mec='#4a9a90', mew=1, zorder=3)
ax2.plot([1757, 1804], [89.7, 85.4], color='black', lw=1.4)
ax2.annotate('', xy=(1993, 85.4), xytext=(1803, 85.4), arrowprops=dict(arrowstyle='-|>', color='black', lw=1.4, mutation_scale=14))
ax2.set_ylim(0, 108.5)
ax2.set_yticks([0, 20, 40, 60, 80, 100])
ax2.yaxis.set_minor_locator(MultipleLocator(10))
ax2.tick_params(labelsize=10, length=5)
for lb in ax2.get_yticklabels():
    lb.set_fontweight('bold')
ax2.set_ylabel('Coulombic efficiency (%)', fontsize=11.5, weight='bold', labelpad=4)
c_handles = [Line2D([], [], ls='', marker='o', ms=5, mfc='#c8c8c8', mec='#808080'),
             Line2D([], [], ls='', marker='o', ms=5, mfc='#3f8f88', mec=CMC_C),
             Line2D([], [], ls='', marker='o', ms=5, mfc='#8ed0f2', mec=BARE_C),
             Line2D([], [], ls='', marker='o', ms=5, mfc='#c070ee', mec=A_C)]
ax2.legend(c_handles, ['Zn sheet', 'CMC-Zn sheet', 'Bare composite Zn', 'A253'], loc='upper left',
           bbox_to_anchor=(0.578, 0.69), frameon=False, fontsize=10, handletextpad=0.2, labelspacing=0.35)
ax2.text(0.581, 0.126, 'Cut-off voltage  : 1.55-0.9 V', transform=ax2.transAxes, fontsize=12, va='center')
ax2.text(0.581, 0.066, r'Current density : 5 mA cm$^{-2}$', transform=ax2.transAxes, fontsize=12, va='center')
tag(10, 378, 'c)')


def gcd_axes(rect, chg, dis, colors, labels, lab_x, name, rot):
    a = fig.add_axes(rect)
    for (cx, cy), (dx, dy), col in zip(chg, dis, colors):
        a.plot(cx, cy, color=col, lw=1.1, ls=(0, (5, 3)))
        a.plot(dx, dy, color=col, lw=1.1)
    for lx, lab in zip(lab_x, labels):
        a.text(lx, 1.583 if rot == 0 else 1.56, lab, fontsize=6.5, weight='bold', ha='center', va='center', rotation=rot)
    a.text(0.77 if rot == 0 else 0.715, 1.252, name, fontsize=6.5, weight='bold', ha='center', va='center')
    a.set_xlim(0, 0.8)
    a.set_ylim(0.9, 1.61)
    a.xaxis.set_major_locator(MultipleLocator(0.2))
    a.xaxis.set_minor_locator(MultipleLocator(0.1))
    a.set_yticks([1.0, 1.2, 1.4, 1.6])
    a.yaxis.set_minor_locator(MultipleLocator(0.1))
    a.xaxis.set_major_formatter(gfmt)
    a.yaxis.set_major_formatter(gfmt)
    a.tick_params(labelsize=7, length=3, direction='out')
    a.set_xlabel(r'Capacity (mA h cm$^{-2}$)', fontsize=8, weight='bold', labelpad=2)
    a.set_ylabel('Voltage (V)', fontsize=8, weight='bold', labelpad=2)
    return a


# ===== (d) =====
gcd_axes(box(77, 787, 477, 992), d_chg, d_dis, d_colors, d_labels, d_label_x, 'A253', 0)
tag(10, 775, 'd)')

# ===== (e) =====
gcd_axes(box(532, 787, 927, 992), e_chg, e_dis, e_colors, e_labels, e_label_x, 'CMC-Zn sheet', 55)
tag(483, 773, 'e)')

# ===== (f) =====
ax = fig.add_axes(box(77, 1109, 476, 1407))
ax.set_facecolor(LAV)
f_series = [(f_zn_x, f_zn_y, '#404040', '#a8a8a8', 'Zn sheet'),
            (f_cmc_x, f_cmc_y, '#3fdcc6', '#9ef0e2', 'CMC-Zn sheet'),
            (f_bare_x, f_bare_y, '#36a2c4', '#9ad6e8', 'Bare composite anode'),
            (f_a253_x, f_a253_y, '#9c3cde', '#d8a8f4', 'A253')]
for x, y, ec, fc, lab in f_series:
    ax.scatter(x, y, s=40, facecolor=fc, edgecolor=ec, linewidth=1.2, label=lab, zorder=3)
    ax.scatter(x, y, s=5, color=ec, zorder=4)
ax.set_xlim(0, 15)
ax.set_ylim(0, 15)
ax.xaxis.set_major_locator(MultipleLocator(5))
ax.yaxis.set_major_locator(MultipleLocator(5))
ax.xaxis.set_minor_locator(MultipleLocator(2.5))
ax.yaxis.set_minor_locator(MultipleLocator(2.5))
ax.tick_params(labelsize=9.5)
for lb in ax.get_xticklabels() + ax.get_yticklabels():
    lb.set_fontweight('bold')
ax.set_xlabel("Z' (Ω)", fontsize=11, weight='bold', labelpad=1)
ax.set_ylabel("-Z'' (Ω)", fontsize=11, weight='bold', labelpad=4)
ax.legend(loc='upper left', bbox_to_anchor=(0.06, 0.515), frameon=False, fontsize=9, handletextpad=0.2,
          labelspacing=0.3, borderaxespad=0.1)
ax.text(14.05, 0.8, 'After', fontsize=10.5, ha='center', va='center')
axi = fig.add_axes(box(111, 1114, 368, 1211))
axi.set_facecolor(LAV)
fi_series = [(fi_zn_x, fi_zn_y, '#404040', '#a8a8a8'), (fi_cmc_x, fi_cmc_y, '#3fdcc6', '#9ef0e2'),
             (fi_bare_x, fi_bare_y, '#36a2c4', '#9ad6e8'), (fi_a253_x, fi_a253_y, '#9c3cde', '#d8a8f4')]
for x, y, ec, fc in fi_series:
    axi.scatter(x, y, s=12, facecolor=fc, edgecolor=ec, linewidth=0.8, zorder=3)
    axi.scatter(x, y, s=2, color=ec, zorder=4)
axi.set_xlim(0, 2)
axi.set_ylim(0, 1)
axi.xaxis.set_major_locator(MultipleLocator(0.5))
axi.xaxis.set_minor_locator(MultipleLocator(0.25))
axi.yaxis.set_major_locator(MultipleLocator(0.2))
axi.xaxis.set_major_formatter(gfmt)
axi.yaxis.set_major_formatter(gfmt)
axi.tick_params(labelsize=5, pad=1, length=2)
for lb in axi.get_xticklabels() + axi.get_yticklabels():
    lb.set_fontweight('bold')
axi.set_xlabel("Z' (Ω)", fontsize=5.5, weight='bold', labelpad=1)
axi.set_ylabel("-Z'' (Ohms)", fontsize=5.5, weight='bold', labelpad=0)
tag(20, 1077, 'f)')


# ===== (g) =====
def xrd_line(pos, hts, w=0.3):
    xs, ys = [5.0], [0.0]
    for p, h in zip(pos, hts):
        xs += [p - w, p, p + w]
        ys += [0.0, h, 0.0]
    xs.append(60.0)
    ys.append(0.0)
    return xs, ys


g_rows = [(box(548, 1049, 927, 1165), xrd_sei_pos, xrd_sei_h, '#a0304a', 'CMC-SEI', (-15, 101)),
          (box(548, 1165, 927, 1290), xrd_bare_pos, xrd_bare_h, '#7cc040', 'Bare composite Zn', (-15, 110)),
          (box(548, 1290, 927, 1408), xrd_zn_pos, xrd_zn_h, '#111111', 'Zn sheet', (-16, 102))]
for i, (rect, pos, hts, col, lab, yl) in enumerate(g_rows):
    a = fig.add_axes(rect)
    xs, ys = xrd_line(pos, hts)
    a.plot(xs, ys, color=col, lw=1.1, label=lab)
    a.set_xlim(5, 60)
    a.set_ylim(*yl)
    a.xaxis.set_major_locator(MultipleLocator(10))
    a.xaxis.set_minor_locator(MultipleLocator(5))
    a.yaxis.set_major_locator(MultipleLocator(25))
    a.yaxis.set_major_formatter(NullFormatter())
    a.tick_params(length=3, labelsize=6.5)
    if i < 2:
        a.xaxis.set_major_formatter(NullFormatter())
    else:
        for lb in a.get_xticklabels():
            lb.set_fontweight('bold')
    a.legend(loc='upper right', frameon=False, handlelength=2.8, borderaxespad=0.3,
             prop={'weight': 'bold', 'size': 5.5})
    h_of = dict(zip(pos, hts))
    for p in zn_star_pos:
        a.scatter([p], [min(h_of[p] + 8, yl[1] - 7)], marker='*', s=45, color='#555555', zorder=4)
    if i == 0:
        a.text(graphite_pos, h_of[graphite_pos] + 9, '#', fontsize=9, ha='center', va='center', color='#444444')
    if i == 1:
        a.text(graphite_pos, yl[1] - 5, '#', fontsize=9, ha='center', va='center', color='#444444')
        a.text(9.8, 97, '# Graphite', fontsize=7, weight='bold', va='center')
    if i >= 1:
        for p in hydroxide_pos:
            a.scatter([p], [h_of[p] + 9], marker='o', s=28, facecolor='none', edgecolor='black', lw=1.1, zorder=4)
    if i == 2:
        a.scatter([10.6], [89], marker='o', s=28, facecolor='none', edgecolor='black', lw=1.1)
        a.text(11.6, 89, r'Zn$_4$(SO$_4$)(OH)$_6$·5H$_2$O', fontsize=7, weight='bold', va='center')
        a.scatter([10.6], [71], marker='*', s=45, color='#444444')
        a.text(11.6, 71, 'Zn', fontsize=7, weight='bold', va='center')
        a.set_xlabel('2θ(°)', fontsize=9, weight='bold', labelpad=2)
fig.text(535 / W, 1 - 1228 / H, 'Intensity (a.u.)', rotation=90, fontsize=11, weight='bold', ha='center', va='center')
tag(480, 1075, 'g)')

fig.savefig('out.png', dpi=100)
